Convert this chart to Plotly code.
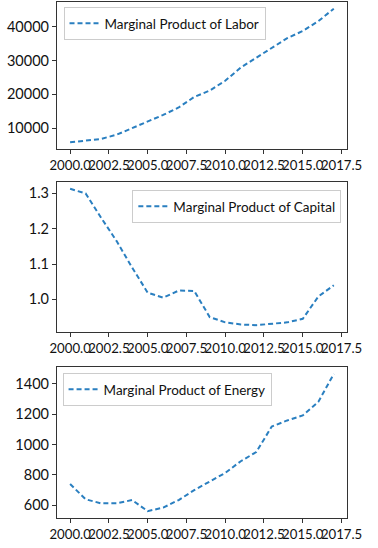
import plotly.graph_objects as go

years = list(range(2000, 2018))
labor = [5800, 6200, 6800, 8050, 10000, 11800, 13900, 16100, 19200, 21100,
         24000, 27900, 30800, 33700, 36600, 38700, 41600, 45300]
capital = [1.313, 1.300, 1.231, 1.165, 1.090, 1.019, 1.005, 1.025, 1.024, 0.950,
           0.935, 0.929, 0.927, 0.930, 0.935, 0.945, 1.008, 1.040]
energy = [740, 640, 613, 613, 635, 562, 585, 635, 700, 758,
          813, 890, 950, 1118, 1158, 1191, 1280, 1464]
names = ["Marginal Product of Labor", "Marginal Product of Capital",
         "Marginal Product of Energy"]
series = [labor, capital, energy]
ydticks = [10000, 0.1, 200]
yfmts = ["d", ".1f", "d"]

W, H = 378, 548
FONT = "Lato"
COLOR = "#2a7fc0"

fig = go.Figure()
boxes = [(2, 149), (182, 332), (367, 518)]
xl, xr = 53, 361
legpos = [(60, 7, "left"), (355, 190, "right"), (59, 373, "left")]

layout = dict(width=W, height=H, margin=dict(l=0, r=0, t=0, b=0),
              paper_bgcolor="white", plot_bgcolor="white",
              font=dict(family=FONT, size=13, color="#111"),
              showlegend=True)

for i, (vals, name) in enumerate(zip(series, names)):
    n = "" if i == 0 else str(i + 1)
    fig.add_trace(go.Scatter(x=years, y=vals, mode="lines", name=name,
                             line=dict(color=COLOR, width=2, dash="5px,3px"),
                             xaxis="x" + n, yaxis="y" + n,
                             legend="legend" + n))
    top, bot = boxes[i]
    lo, hi = min(vals), max(vals)
    pad = (hi - lo) * 0.05
    layout["xaxis" + n] = dict(domain=[xl / W, xr / W], anchor="y" + n,
                               range=[2000 - 0.85, 2017 + 0.85],
                               tick0=2000, dtick=2.5, tickformat=".1f",
                               tickangle=0,
                               showline=True, linecolor="#333", linewidth=1,
                               mirror=True, ticks="outside", ticklen=4,
                               tickcolor="#333", showgrid=False, zeroline=False,
                               tickfont=dict(size=13.2))
    layout["yaxis" + n] = dict(domain=[1 - bot / H, 1 - top / H], anchor="x" + n,
                               range=[lo - pad, hi + pad], dtick=ydticks[i],
                               tickformat=yfmts[i],
                               showline=True, linecolor="#333", linewidth=1,
                               mirror=True, ticks="outside", ticklen=4,
                               tickcolor="#333", showgrid=False, zeroline=False,
                               tickfont=dict(size=14.5))
    lx, ly, anc = legpos[i]
    layout["legend" + n] = dict(x=lx / W, y=1 - ly / H, xanchor=anc, yanchor="top",
                                bgcolor="white", bordercolor="#ccc", borderwidth=1,
                                font=dict(size=13.5), itemwidth=30)

fig.update_layout(**layout)
fig.write_html("out.html", config={"displayModeBar": False},
               post_script="document.body.style.margin='0';document.body.style.overflow='hidden';")
